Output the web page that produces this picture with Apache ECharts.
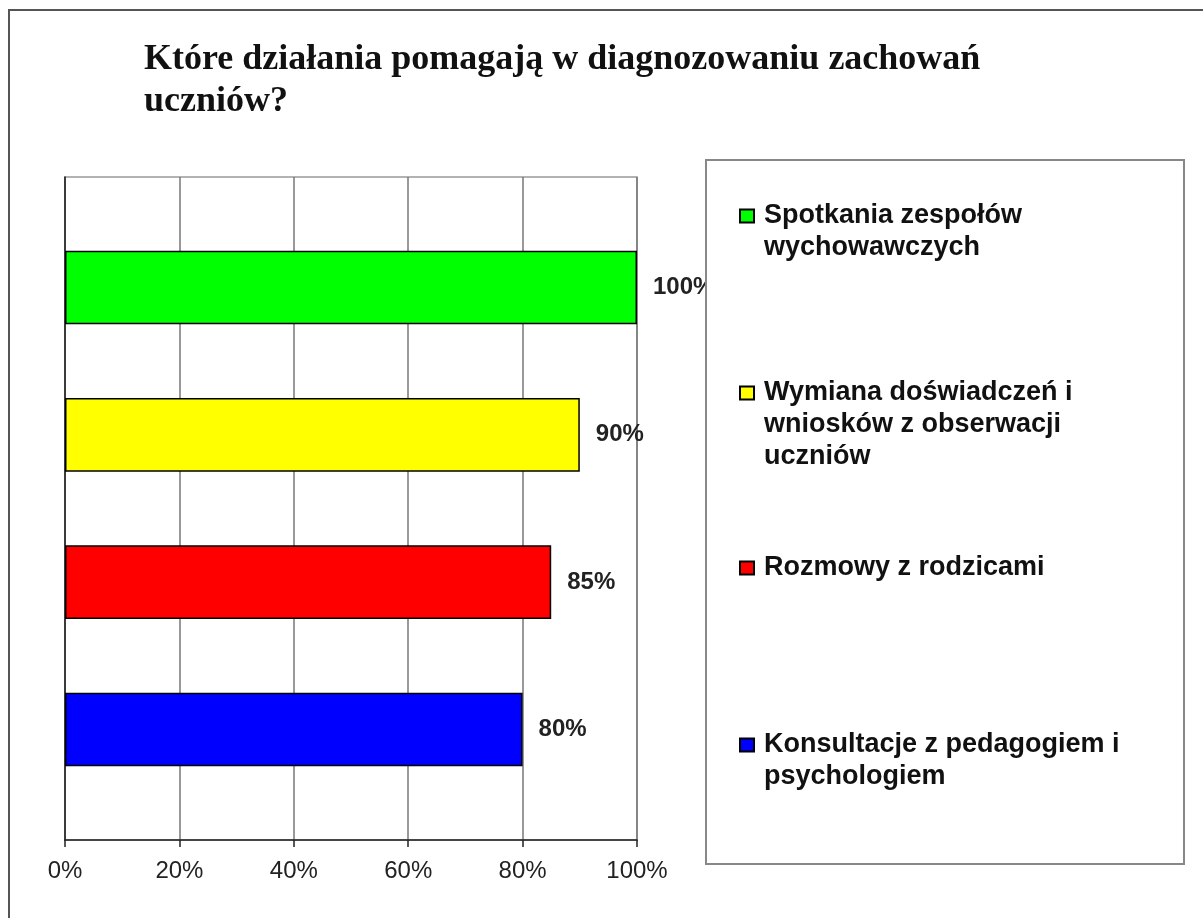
<!DOCTYPE html>
<html>
<head>
<meta charset="utf-8">
<script src="https://cdn.jsdelivr.net/npm/echarts@6/dist/echarts.min.js"></script>
<style>html,body{margin:0;padding:0;background:#fff;}#c{width:1203px;height:918px;}</style>
</head>
<body>
<div id="c"></div>
<script>
const titleText = 'Które działania pomagają w diagnozowaniu zachowań\nuczniów?';
const categories = [
  'Spotkania zespołów wychowawczych',
  'Wymiana doświadczeń i wniosków z obserwacji uczniów',
  'Rozmowy z rodzicami',
  'Konsultacje z pedagogiem i psychologiem'
];
const legendLines = [
  ['Spotkania zespołów', 'wychowawczych'],
  ['Wymiana doświadczeń i', 'wniosków z obserwacji', 'uczniów'],
  ['Rozmowy z rodzicami'],
  ['Konsultacje z pedagogiem i', 'psychologiem']
];
const values = [100, 90, 85, 80];
const xTickValues = [0, 20, 40, 60, 80, 100];

// styles / layout (not data)
const barColors = ['#00FF00', '#FFFF00', '#FF0000', '#0000FF'];
const legendCenters = [216, 393, 568, 745];
const LH = 32;
const sans = "'Liberation Sans', Arial, sans-serif";

const series = categories.map((name, i) => ({
  type: 'bar',
  name: name,
  xAxisIndex: 1,
  yAxisIndex: 1,
  stack: 'all',
  barWidth: '50%',
  data: categories.map((c, j) => (j === i ? values[i] : null)),
  itemStyle: { color: barColors[i], borderColor: '#000', borderWidth: 1.5 },
  label: {
    show: true, position: 'right', distance: 16,
    formatter: '{c}%', fontFamily: sans, fontWeight: 'bold', fontSize: 24, color: '#222'
  },
  emphasis: { disabled: true }
}));

const legends = categories.map((name, i) => {
  const n = legendLines[i].length;
  const total = 2 * n - 1;
  return {
    data: [name],
    orient: 'vertical',
    left: 739,
    top: legendCenters[i] - total * LH / 2,
    padding: 0,
    itemWidth: 14,
    itemHeight: 13,
    icon: 'rect',
    selectedMode: false,
    z: 5,
    formatter: () => new Array(n).join('\n') + legendLines[i].join('\n'),
    textStyle: {
      fontFamily: sans, fontWeight: 'bold', fontSize: 27, color: '#111',
      lineHeight: LH, padding: [0, 0, 0, 5]
    }
  };
});

const chart = echarts.init(document.getElementById('c'), null, { renderer: 'canvas' });
chart.setOption({
  animation: false,
  backgroundColor: '#fff',
  title: {
    text: titleText,
    left: 139,
    top: 34,
    textStyle: {
      fontFamily: "'Liberation Serif', 'Times New Roman', serif",
      fontWeight: 'bold', fontSize: 36, lineHeight: 42, color: '#111'
    }
  },
  graphic: [
    { type: 'rect', z: 0, shape: { x: 9, y: 10, width: 1260, height: 960 },
      style: { fill: 'none', stroke: '#555', lineWidth: 2 } },
    { type: 'rect', z: 3, shape: { x: 706, y: 160, width: 478, height: 704 },
      style: { fill: '#fff', stroke: '#888', lineWidth: 2 } }
  ],
  legend: legends,
  grid: [
    { left: 65, right: 566, top: 177, bottom: 78, show: true, borderColor: '#999', borderWidth: 1.5, backgroundColor: 'transparent' },
    { left: 65, right: 566, top: 213.85, bottom: 114.85 }
  ],
  xAxis: [
    {
      gridIndex: 0, type: 'value', min: 0, max: 100, interval: 20,
      axisLine: { show: true, lineStyle: { color: '#222', width: 1.5 } },
      axisTick: { show: true, length: 7, lineStyle: { color: '#222', width: 1.5 } },
      splitLine: { show: true, lineStyle: { color: '#777', width: 1.5 } },
      axisLabel: {
        margin: 19, fontFamily: sans, fontSize: 24, color: '#222',
        customValues: xTickValues,
        formatter: v => v + '%'
      }
    },
    { gridIndex: 1, type: 'value', min: 0, max: 100, show: false }
  ],
  yAxis: [
    {
      gridIndex: 0, type: 'value', min: 0, max: 1,
      axisLine: { show: true, lineStyle: { color: '#222', width: 1.5 } },
      axisTick: { show: false }, axisLabel: { show: false }, splitLine: { show: false }
    },
    { gridIndex: 1, type: 'category', inverse: true, data: categories, show: false }
  ],
  series: series
});
</script>
</body>
</html>
